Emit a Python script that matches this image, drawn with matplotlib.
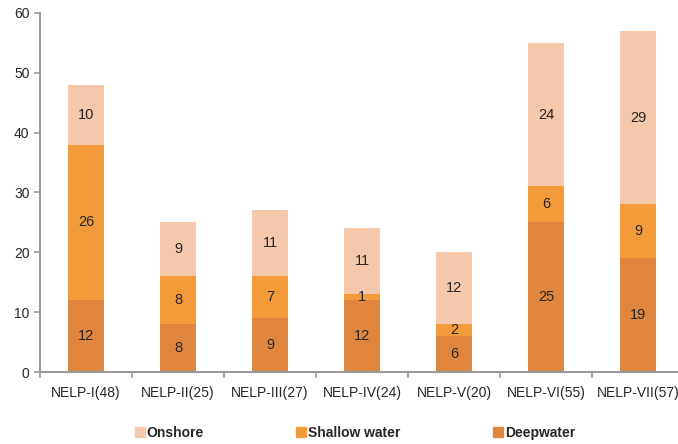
import numpy as np
import matplotlib.pyplot as plt
from matplotlib.lines import Line2D

plt.rcParams['font.family'] = ['Liberation Sans', 'DejaVu Sans']

rounds = ['NELP-I(48)', 'NELP-II(25)', 'NELP-III(27)', 'NELP-IV(24)',
          'NELP-V(20)', 'NELP-VI(55)', 'NELP-VII(57)']
deepwater = [12, 8, 9, 12, 6, 25, 19]
shallow = [26, 8, 7, 1, 2, 6, 9]
onshore = [10, 9, 11, 11, 12, 24, 29]

c_deep = '#E0853D'
c_shallow = '#F39B3B'
c_onshore = '#F5C7AB'
grey = '#999999'
txt = '#262626'

fig = plt.figure(figsize=(6.78, 4.44), dpi=100)
ax = fig.add_axes([0.059, 0.162, 0.95, 0.809])

x = np.arange(len(rounds))
w = 0.40
deep = np.array(deepwater)
sh = np.array(shallow)
on = np.array(onshore)

b1 = ax.bar(x, deep, w, color=c_deep)
b2 = ax.bar(x, sh, w, bottom=deep, color=c_shallow)
b3 = ax.bar(x, on, w, bottom=deep + sh, color=c_onshore)

# value labels in the middle of each segment
for vals, base in [(deep, np.zeros_like(deep)), (sh, deep), (on, deep + sh)]:
    for i, v in enumerate(vals):
        ax.text(x[i], base[i] + v / 2, str(v), ha='center', va='center',
                fontsize=10.5, color=txt)

ax.set_xlim(-0.5, len(rounds) - 0.5)
ax.set_ylim(0, 60)
ax.set_yticks(range(0, 61, 10))
ax.set_xticks(x)
ax.set_xticklabels(rounds)
ax.set_xticks(np.arange(-0.5, len(rounds)), minor=True)

for s in ['top', 'right']:
    ax.spines[s].set_visible(False)
for s in ['left', 'bottom']:
    ax.spines[s].set_color(grey)
    ax.spines[s].set_linewidth(1.5)

ax.tick_params(axis='y', colors=grey, labelcolor=txt, labelsize=10,
               length=4, width=1.2)
ax.tick_params(axis='x', which='major', length=0, pad=10,
               labelcolor=txt, labelsize=10)
ax.tick_params(axis='x', which='minor', length=4, width=1.2, colors=grey)

handles = [Line2D([], [], marker='s', ls='', color=c, markersize=7)
           for c in (c_onshore, c_shallow, c_deep)]
leg = fig.legend(handles, ['Onshore', 'Shallow water', 'Deepwater'],
                 loc='center', bbox_to_anchor=(0.522, 0.025), ncol=3,
                 frameon=False, handletextpad=0.0, columnspacing=6.5,
                 handlelength=1.0,
                 prop={'weight': 'bold', 'size': 10})
for t in leg.get_texts():
    t.set_color(txt)

fig.savefig('out.png', dpi=100)
